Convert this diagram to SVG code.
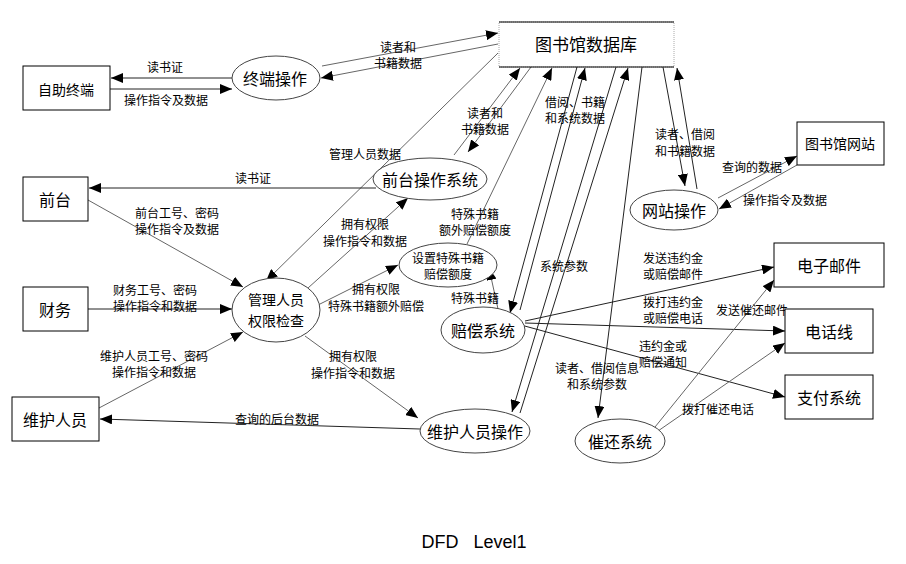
<svg xmlns="http://www.w3.org/2000/svg" width="906" height="564" viewBox="0 0 906 564">
<style>
.bx{fill:#fff;stroke:#000;stroke-width:1}
.el{fill:#fff;stroke:#444;stroke-width:1}
.t{font-family:"Noto Sans CJK SC","Liberation Sans",sans-serif;fill:#000;text-anchor:middle;dominant-baseline:central}
.n16{font-size:16px}
.n14{font-size:14px}
.n17{font-size:17px}
.n12{font-size:12px}
.lb{font-family:"Noto Sans CJK SC","Liberation Sans",sans-serif;font-size:12px;fill:#000;text-anchor:middle;dominant-baseline:central}
.c line{stroke:#222;stroke-width:1;marker-end:url(#ah)}
.c line.g{stroke:#666}
</style>
<defs>
<marker id="ah" viewBox="0 0 12 10" refX="12" refY="5" markerWidth="12" markerHeight="10" markerUnits="userSpaceOnUse" orient="auto">
<path d="M0,0 L12,5 L0,10 z" fill="#000"/>
</marker>
</defs>
<rect width="906" height="564" fill="#fff"/>

<g class="c" id="connectors">
<line x1="232" y1="78" x2="111" y2="78"/>
<line x1="110" y1="89" x2="232" y2="89"/>
<line class="g" x1="322" y1="66" x2="498" y2="33"/>
<line class="g" x1="498" y1="44" x2="321" y2="78"/>
<line class="g" x1="498" y1="53" x2="266" y2="281"/>
<line x1="376" y1="188" x2="89" y2="188"/>
<line class="g" x1="88" y1="200" x2="243" y2="287"/>
<line x1="88" y1="309" x2="232" y2="309"/>
<line class="g" x1="99" y1="408" x2="243" y2="332"/>
<line x1="420" y1="429" x2="100" y2="419"/>
<line class="g" x1="305" y1="336" x2="418" y2="418"/>
<line class="g" x1="308" y1="288" x2="408" y2="198"/>
<line class="g" x1="310" y1="309" x2="398" y2="265"/>
<line class="g" x1="454" y1="155" x2="520" y2="68"/>
<line class="g" x1="531" y1="67" x2="468" y2="152"/>
<line class="g" x1="467" y1="244" x2="552" y2="68"/>
<line class="g" x1="498" y1="309" x2="489" y2="268"/>
<line x1="577" y1="67" x2="510" y2="313"/>
<line x1="520" y1="310" x2="585" y2="68"/>
<line x1="616" y1="67" x2="512" y2="412"/>
<line x1="520" y1="413" x2="628" y2="68"/>
<line x1="642" y1="67" x2="598" y2="418"/>
<line x1="663" y1="67" x2="685" y2="186"/>
<line x1="697" y1="189" x2="677" y2="68"/>
<line class="g" x1="718" y1="198" x2="797" y2="156"/>
<line class="g" x1="797" y1="165" x2="719" y2="209"/>
<line x1="525" y1="321" x2="774" y2="267"/>
<line x1="525" y1="323" x2="785" y2="331"/>
<line x1="521" y1="325" x2="785" y2="397"/>
<line class="g" x1="655" y1="427" x2="774" y2="280"/>
<line class="g" x1="658" y1="431" x2="785" y2="343"/>
</g>

<g id="labels">
<text class="lb" x="165" y="66">读书证</text>
<text class="lb" x="166" y="99">操作指令及数据</text>
<text class="lb" x="398" y="46">读者和</text>
<text class="lb" x="398" y="62">书籍数据</text>
<text class="lb" x="365" y="153">管理人员数据</text>
<text class="lb" x="253" y="177">读书证</text>
<text class="lb" x="177" y="212">前台工号、密码</text>
<text class="lb" x="177" y="228">操作指令及数据</text>
<text class="lb" x="155" y="289">财务工号、密码</text>
<text class="lb" x="155" y="305">操作指令和数据</text>
<text class="lb" x="154" y="355">维护人员工号、密码</text>
<text class="lb" x="154" y="371">操作指令和数据</text>
<text class="lb" x="277" y="418">查询的后台数据</text>
<text class="lb" x="353" y="355">拥有权限</text>
<text class="lb" x="353" y="372">操作指令和数据</text>
<text class="lb" x="365" y="223">拥有权限</text>
<text class="lb" x="365" y="240">操作指令和数据</text>
<text class="lb" x="376" y="288">拥有权限</text>
<text class="lb" x="376" y="305">特殊书籍额外赔偿</text>
<text class="lb" x="485" y="112">读者和</text>
<text class="lb" x="485" y="128">书籍数据</text>
<text class="lb" x="475" y="213">特殊书籍</text>
<text class="lb" x="475" y="229">额外赔偿额度</text>
<text class="lb" x="475" y="297">特殊书籍</text>
<text class="lb" x="575" y="101">借阅、书籍</text>
<text class="lb" x="575" y="117">和系统数据</text>
<text class="lb" x="564" y="265">系统参数</text>
<text class="lb" x="597" y="367">读者、借阅信息</text>
<text class="lb" x="597" y="383">和系统参数</text>
<text class="lb" x="685" y="133">读者、借阅</text>
<text class="lb" x="685" y="150">和书籍数据</text>
<text class="lb" x="752" y="166">查询的数据</text>
<text class="lb" x="785" y="199">操作指令及数据</text>
<text class="lb" x="673" y="257">发送违约金</text>
<text class="lb" x="673" y="273">或赔偿邮件</text>
<text class="lb" x="673" y="301">拨打违约金</text>
<text class="lb" x="673" y="317">或赔偿电话</text>
<text class="lb" x="663" y="345">违约金或</text>
<text class="lb" x="663" y="361">赔偿通知</text>
<text class="lb" x="752" y="309">发送催还邮件</text>
<text class="lb" x="718" y="408">拨打催还电话</text>
</g>

<g id="db">
<rect x="499" y="22" width="175" height="45" fill="#fff" stroke="#aaa" stroke-width="1" stroke-dasharray="1,1"/>
<line x1="499" y1="22" x2="674" y2="22" stroke="#000"/>
<line x1="499" y1="67" x2="674" y2="67" stroke="#000"/>
<text class="t n17" x="586" y="43">图书馆数据库</text>
</g>
<g id="zizhu"><rect class="bx" x="23" y="66" width="87" height="44"/><text class="t n14" x="66" y="89">自助终端</text></g>
<g id="zhongduan"><ellipse class="el" cx="276" cy="78" rx="44" ry="22"/><text class="t n16" x="275" y="78">终端操作</text></g>
<g id="qiantai"><rect class="bx" x="23" y="177" width="65" height="44"/><text class="t n16" x="55" y="199">前台</text></g>
<g id="qiantaisys"><ellipse class="el" cx="430" cy="179" rx="57" ry="21"/><text class="t n16" x="430" y="179">前台操作系统</text></g>
<g id="caiwu"><rect class="bx" x="23" y="287" width="65" height="44"/><text class="t n16" x="55" y="309">财务</text></g>
<g id="guanli"><ellipse class="el" cx="276" cy="310" rx="44" ry="32"/><text class="t n14" x="276" y="299">管理人员</text><text class="t n14" x="276" y="320">权限检查</text></g>
<g id="shezhi"><ellipse class="el" cx="448" cy="265" rx="49" ry="22"/><text class="t n12" x="448" y="257">设置特殊书籍</text><text class="t n12" x="448" y="273">赔偿额度</text></g>
<g id="peichang"><ellipse class="el" cx="483" cy="330" rx="42" ry="23"/><text class="t n16" x="483" y="330">赔偿系统</text></g>
<g id="weihuren"><rect class="bx" x="12" y="397" width="87" height="44"/><text class="t n16" x="55" y="419">维护人员</text></g>
<g id="weihucaozuo"><ellipse class="el" cx="475" cy="431" rx="55" ry="22"/><text class="t n16" x="475" y="431">维护人员操作</text></g>
<g id="cuihuan"><ellipse class="el" cx="620" cy="441" rx="45" ry="22"/><text class="t n16" x="620" y="441">催还系统</text></g>
<g id="wangzhancaozuo"><ellipse class="el" cx="674" cy="210" rx="44" ry="20"/><text class="t n16" x="674" y="210">网站操作</text></g>
<g id="wangzhan"><rect class="bx" x="797" y="122" width="87" height="43"/><text class="t n14" x="840" y="143">图书馆网站</text></g>
<g id="youjian"><rect class="bx" x="774" y="243" width="110" height="44"/><text class="t n16" x="829" y="265">电子邮件</text></g>
<g id="dianhua"><rect class="bx" x="785" y="309" width="88" height="44"/><text class="t n16" x="829" y="331">电话线</text></g>
<g id="zhifu"><rect class="bx" x="785" y="375" width="88" height="44"/><text class="t n16" x="829" y="397">支付系统</text></g>

<text x="474" y="548" font-family="'Liberation Sans',Arial,sans-serif" font-size="18" text-anchor="middle" fill="#000" xml:space="preserve">DFD   Level1</text>
</svg>
